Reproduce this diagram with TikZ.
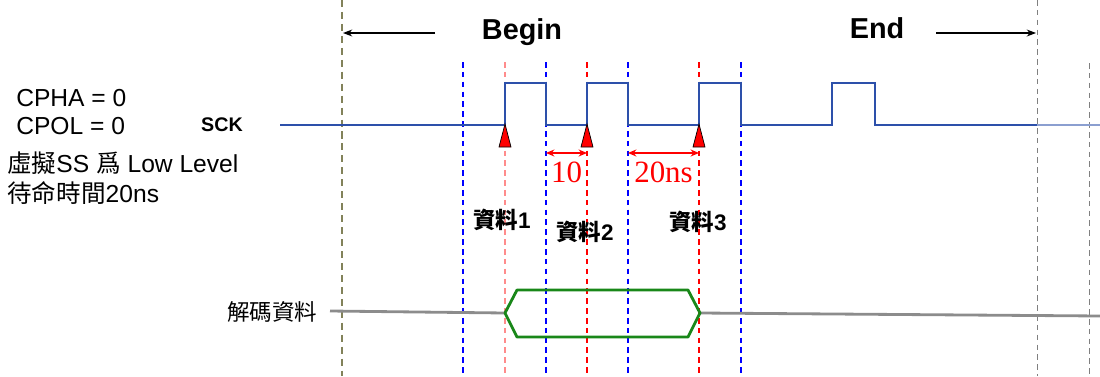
\documentclass[tikz,border=0pt]{standalone}
\usepackage{fontspec}
\setmainfont{Liberation Sans}
\newfontfamily\cjk{Noto Sans CJK TC}
\newfontfamily\serifnum{Liberation Serif}
\usetikzlibrary{arrows.meta, positioning}
\definecolor{clkblue}{RGB}{45,80,170}
\definecolor{guideolive}{RGB}{130,130,90}
\definecolor{datagray}{RGB}{140,140,140}
\definecolor{hexgreen}{RGB}{25,135,25}

\begin{document}
\begin{tikzpicture}[
            x=0.025cm, y=-0.025cm,
            >=Stealth,
            clk/.style={draw=clkblue, line width=1pt},
            guia/.style={line width=0.9pt, dash pattern=on 4pt off 3pt},
            marca/.style={fill=red, draw=black, line width=0.5pt},
            cota/.style={<->, red, line width=0.8pt, >={Stealth[length=6pt, width=5pt]}},
            rotulo/.style={font=\fontsize{17.5}{20}\selectfont, inner sep=0pt},
            dado/.style={font=\bfseries\fontsize{16}{18}\selectfont, inner sep=0pt},
            titulo/.style={font=\bfseries\fontsize{20.5}{24}\selectfont, inner sep=0pt},
            numero/.style={red, font=\serifnum\fontsize{22}{24}\selectfont, inner sep=0pt}
        ]
            \useasboundingbox (0,0) rectangle (1100,376);

            % Linhas guia verticais
            \draw [guia, draw=guideolive, dash pattern=on 5pt off 3.5pt] (342,0) -- (342,376);
            \draw [guia, draw=gray, line width=0.7pt] (1037,0) -- (1037,376);
            \draw [guia, draw=gray, line width=0.7pt] (1089,63) -- (1089,376);
            \foreach \x in {463,546,628,741}
                \draw [guia, draw=blue] (\x,62) -- (\x,376);
            \draw [guia, draw=red!45] (505,62) -- (505,376);
            \foreach \x in {587,699}
                \draw [guia, draw=red] (\x,62) -- (\x,376);

            % Textos da esquerda
            \node [rotulo, anchor=west] (cpha) at (16,98) {CPHA = 0};
            \node [rotulo, anchor=west] (cpol) at (16,126) {CPOL = 0};
            \node [rotulo, anchor=west] (ss) at (7,163) {{\cjk 虛擬}SS {\cjk 爲} Low Level};
            \node [rotulo, anchor=west] (espera) at (7,193) {{\cjk 待命時間}20ns};
            \node [font=\bfseries\fontsize{14}{16}\selectfont, inner sep=0pt] (sck) at (222,125) {SCK};

            % Begin e End
            \node [titulo] (begin) at (522,32) {Begin};
            \node [titulo] (end) at (877,28) {End};
            \coordinate (bgcauda) at (435,33);
            \coordinate (bgfim) at (343,33);
            \coordinate (edcauda) at (936,33);
            \coordinate (edfim) at (1036,33);
            \draw [->, line width=0.8pt] (bgcauda) -- (bgfim);
            \draw [->, line width=0.8pt] (edcauda) -- (edfim);

            % Sinal SCK
            \coordinate (sckini) at (280,125);
            \draw [clk] (sckini) -- (505,125) -- (505,83) -- (546,83) -- (546,125)
                -- (587,125) -- (587,83) -- (628,83) -- (628,125)
                -- (699,125) -- (699,83) -- (741,83) -- (741,125)
                -- (832,125) -- (832,83) -- (875,83) -- (875,125) -- (1037,125);
            \draw [clk, draw=clkblue!55] (1037,125) -- (1100,125);

            % Marcas de amostragem
            \foreach \x in {505,587,699}
                \draw [marca] (\x,124) -- (\x-6,147) -- (\x+6,147) -- cycle;

            % Cotas de tempo
            \coordinate (c1a) at (546,153);
            \coordinate (c1b) at (587,153);
            \coordinate (c2a) at (628,153);
            \coordinate (c2b) at (699,153);
            \draw [cota] (c1a) -- (c1b) node [numero, midway, below=6pt] (t10) {10};
            \draw [cota] (c2a) -- (c2b) node [numero, midway, below=6pt] (t20) {20ns};

            % Rotulos dos dados
            \node [dado] (d1) at (502,220) {{\cjk\bfseries 資料}1};
            \node [dado] (d2) at (585,232) {{\cjk\bfseries 資料}2};
            \node [dado] (d3) at (698,222) {{\cjk\bfseries 資料}3};

            % Dado decodificado
            \node [rotulo, font=\cjk\fontsize{16}{18}\selectfont] (dec) at (272,312) {解碼資料};
            \coordinate (lini) at (330,311);
            \coordinate (hexesq) at (505,313);
            \coordinate (hexdir) at (700,313);
            \coordinate (lfim) at (1100,316);
            \draw [datagray, line width=2pt] (lini) -- (hexesq);
            \draw [datagray, line width=2pt] (hexdir) -- (lfim);
            \draw [hexgreen, line width=2pt, line join=round] (hexesq) -- (517,290) -- (688,290)
                -- (hexdir) -- (688,337) -- (517,337) -- cycle;
        \end{tikzpicture}
\end{document}
